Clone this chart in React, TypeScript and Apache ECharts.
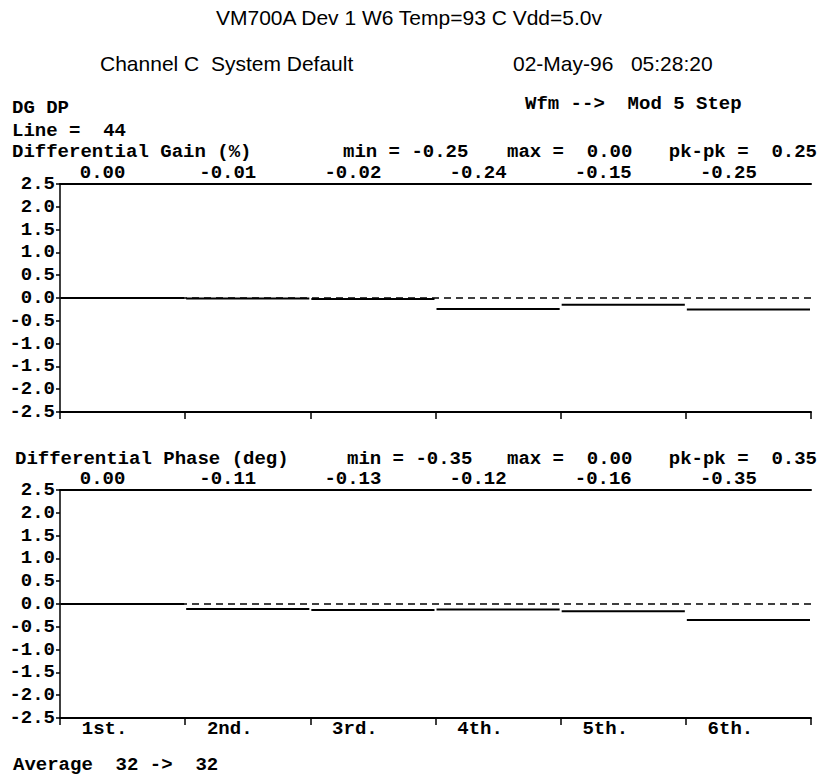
import React, { useEffect, useRef } from "react";
import * as echarts from "echarts";

const categories = ["1st.", "2nd.", "3rd.", "4th.", "5th.", "6th."];
const gainValues = [0.0, -0.01, -0.02, -0.24, -0.15, -0.25];
const phaseValues = [0.0, -0.11, -0.13, -0.12, -0.16, -0.35];
const yMin = -2.5;
const yMax = 2.5;
const yStep = 0.5;

const titleText = "VM700A Dev 1 W6 Temp=93 C Vdd=5.0v";
const channelText = "Channel C  System Default";
const dateText = "02-May-96   05:28:20";
const gainStats = { min: "-0.25", max: "0.00", pkpk: "0.25" };
const phaseStats = { min: "-0.35", max: "0.00", pkpk: "0.35" };

const MONO = '"Liberation Mono", "Courier New", monospace';
const SANS = '"Liberation Sans", Arial, sans-serif';

const monoStyle = (extra: any = {}) => ({
  fontFamily: MONO,
  fontWeight: "bold",
  fontSize: 19,
  lineHeight: 18,
  fill: "#000",
  ...extra,
});

function txt(text: string, x: number, y: number, opts: any = {}) {
  return {
    type: "text",
    x,
    y,
    silent: true,
    style: monoStyle({ text, textVerticalAlign: "middle", ...opts }),
  };
}

function sans(text: string, x: number, y: number, align: string) {
  return {
    type: "text",
    x,
    y,
    silent: true,
    style: {
      text,
      fontFamily: SANS,
      fontSize: 21,
      fill: "#000",
      textAlign: align,
      textVerticalAlign: "middle",
    },
  };
}

export default function App() {
  const ref = useRef<HTMLDivElement>(null);

  useEffect(() => {
    if (!ref.current) return;
    const chart = echarts.init(ref.current, null, { renderer: "svg" });

    const labelFont = {
      fontFamily: MONO,
      fontWeight: "bold",
      fontSize: 19,
      lineHeight: 18,
      color: "#000",
    };

    const grids = [
      { left: 60, top: 184, width: 751, height: 228 },
      { left: 60, top: 490, width: 751, height: 228 },
    ];
    const panels = [gainValues, phaseValues];

    const xAxis: any[] = [];
    const yAxis: any[] = [];
    const series: any[] = [];

    panels.forEach((values, gi) => {
      xAxis.push({
        type: "category",
        gridIndex: gi,
        data: categories,
        position: "bottom",
        boundaryGap: true,
        axisLine: { show: true, onZero: false, lineStyle: { color: "#000", width: 2 } },
        axisTick: { show: true, length: 7, lineStyle: { color: "#000", width: 1.5 } },
        axisLabel: {
          show: gi === 1,
          margin: 2,
          padding: [0, 36, 0, 0],
          ...labelFont,
        },
        splitLine: { show: false },
      });
      xAxis.push({
        type: "category",
        gridIndex: gi,
        data: values.map((v) => v.toFixed(2)),
        position: "top",
        boundaryGap: true,
        axisLine: { show: true, onZero: false, lineStyle: { color: "#000", width: 2 } },
        axisTick: { show: false },
        axisLabel: {
          show: true,
          margin: 2,
          padding: [0, 40, 0, 0],
          ...labelFont,
        },
        splitLine: { show: false },
      });
      yAxis.push({
        type: "value",
        gridIndex: gi,
        min: yMin,
        max: yMax,
        interval: yStep,
        axisLine: { show: true, onZero: false, lineStyle: { color: "#000", width: 1.5 } },
        axisTick: { show: true, length: 4, lineStyle: { color: "#000", width: 1.5 } },
        axisLabel: {
          margin: 5,
          formatter: (v: number) => v.toFixed(1),
          ...labelFont,
        },
        splitLine: { show: false },
      });
      series.push({
        type: "line",
        xAxisIndex: gi * 2,
        yAxisIndex: gi,
        data: values,
        symbol: "none",
        showSymbol: false,
        silent: true,
        lineStyle: { opacity: 0, width: 0 },
        z: 1,
        markLine: {
          symbol: ["none", "none"],
          silent: true,
          label: { show: false },
          lineStyle: { color: "#000", type: [7, 5], width: 1.5 },
          data: [{ yAxis: 0 }],
        },
      });
      series.push({
        type: "custom",
        xAxisIndex: gi * 2,
        yAxisIndex: gi,
        data: values.map((v, i) => [i, v]),
        encode: { x: 0, y: 1 },
        silent: true,
        z: 3,
        renderItem: (params: any, api: any) => {
          const c = api.coord([api.value(0), api.value(1)]);
          const w = api.size([1, 0])[0];
          return {
            type: "line",
            shape: { x1: c[0] - w / 2 + 1, y1: c[1], x2: c[0] + w / 2 - 1, y2: c[1] },
            style: { stroke: "#000", lineWidth: 2 },
          };
        },
      });
    });

    const graphic: any[] = [
      sans(titleText, 409, 17, "center"),
      sans(channelText, 100, 63, "left"),
      sans(dateText, 513, 63, "left"),
      txt("DG DP", 12, 108),
      txt("Wfm -->  Mod 5 Step", 525, 104),
      txt("Line =  44", 12, 131),
      txt("Differential Gain (%)", 12, 152),
      txt("min = " + gainStats.min, 343, 152),
      txt("max =  " + gainStats.max, 507, 152),
      txt("pk-pk =  " + gainStats.pkpk, 817, 152, { textAlign: "right" }),
      txt("Differential Phase (deg)", 15, 459),
      txt("min = " + phaseStats.min, 347, 459),
      txt("max =  " + phaseStats.max, 507, 459),
      txt("pk-pk =  " + phaseStats.pkpk, 817, 459, { textAlign: "right" }),
      txt("Average  32 ->  32", 13, 765),
    ];

    chart.setOption({
      animation: false,
      backgroundColor: "#fff",
      textStyle: { fontFamily: MONO },
      grid: grids,
      xAxis,
      yAxis,
      series,
      graphic,
    });

    return () => chart.dispose();
  }, []);

  return (
    <div
      ref={ref}
      style={{ position: "absolute", left: 0, top: 0, width: 819, height: 778, background: "#fff" }}
    />
  );
}
